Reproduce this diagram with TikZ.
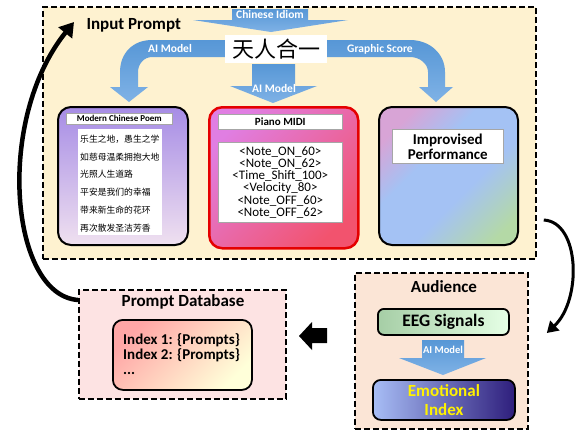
\documentclass[tikz,border=0pt]{standalone}
\usepackage{fontspec}
\setmainfont{Carlito}
\newfontfamily\cjk{Noto Sans CJK SC}
\usetikzlibrary{arrows.meta,calc}

\definecolor{fondoentrada}{HTML}{FEF2D0}
\definecolor{fondobase}{HTML}{FDE3E3}
\definecolor{fondopublico}{HTML}{FBE5D6}
\definecolor{azulflecha}{HTML}{5797D6}
\definecolor{azulclaro}{HTML}{7FB2E6}
\definecolor{midiarriba}{HTML}{E07EE2}
\definecolor{midiabajo}{HTML}{F2536E}
\definecolor{improrosa}{HTML}{D8A4D6}
\definecolor{improazul}{HTML}{A4C2F4}
\definecolor{improverde}{HTML}{B4D9A6}
\definecolor{emoclaro}{HTML}{A8BEF6}
\definecolor{emooscuro}{HTML}{2E1E7C}

\pgfdeclareverticalshading{improsombra}{100bp}{color(0bp)=(improverde); color(22bp)=(improverde);
	color(42bp)=(improazul); color(60bp)=(improazul); color(76bp)=(improrosa); color(100bp)=(improrosa)}

\tikzset{
	caja/.style={draw=black, line width=1.8pt, dash pattern=on 6pt off 3pt, anchor=north west, inner sep=0pt},
	tarjeta/.style={draw=black, line width=2pt, rounded corners=13pt, anchor=north west, inner sep=0pt},
	etiqueta/.style={fill=white, draw=gray!70, line width=0.6pt, anchor=north west, inner sep=0pt},
	flecha/.style={draw=none, top color=azulflecha, bottom color=azulclaro},
	rotulo/.style={text=white, font=\bfseries\fontsize{11.5}{11.5}\selectfont},
	titulo/.style={font=\bfseries\fontsize{17}{17}\selectfont},
}

\begin{document}
\begin{tikzpicture}[x=1pt,y=-1pt]
	%Marco
	\useasboundingbox (0,0) rectangle (583,432);

	%Caja de entrada
	\node[caja, fill=fondoentrada, minimum width=493pt, minimum height=252pt] (entrada) at (42,6) {};
	\node[titulo, anchor=west] (tituloentrada) at (83,25) {Input Prompt};

	%Flechas azules
	\shade[flecha] (232,9) -- (308,9) -- (308,20) -- (348,20) -- (271,32) -- (193,20) -- (232,20) -- cycle;
	\node[rotulo] (rotidioma) at (270,15) {Chinese Idiom};
	\shade[flecha] (228,40) -- (152,40) .. controls (133,40) and (120,53) .. (120,72) -- (120,87)
		-- (110,87) -- (129,102) -- (148,87) -- (138,87) -- (138,72)
		.. controls (138,64) and (144,57) .. (152,57) -- (228,57) -- cycle;
	\node[rotulo] (rotpoema) at (170,49) {AI Model};
	\shade[flecha] (324,40) -- (410,40) .. controls (430,40) and (445,54) .. (445,72) -- (445,87)
		-- (453,87) -- (436,102) -- (419,87) -- (428,87) -- (428,72)
		.. controls (428,64) and (420,57) .. (410,57) -- (324,57) -- cycle;
	\node[rotulo] (rotgrafico) at (380,49) {Graphic Score};
	\shade[flecha] (252,64) -- (295,64) -- (295,86) -- (317,86) -- (273,103) -- (230,86) -- (252,86) -- cycle;
	\node[rotulo] (rotmidi) at (274,89) {AI Model};

	%Idiom
	\node[fill=white, minimum width=102pt, minimum height=28pt, inner sep=0pt,
		font=\cjk\fontsize{22}{22}\selectfont] (idioma) at (276,49) {天人合一};

	%Poema
	\node[tarjeta, top color=violet!45!blue!45!white, bottom color=violet!12!white,
		minimum width=130pt, minimum height=138pt] (poema) at (57,106) {};
	\node[etiqueta, minimum width=106pt, minimum height=11pt,
		font=\bfseries\fontsize{9}{9}\selectfont] (titulopoema) at (66,113) {Modern Chinese Poem};
	\node[fill=white, anchor=north west, inner sep=0pt, minimum width=84pt, minimum height=106pt] (textopoema) at (78,129) {};
	\foreach \verso [count=\i] in {乐生之地，愚生之学, 如慈母温柔拥抱大地, 光照人生道路, 平安是我们的幸福, 带来新生命的花环, 再次散发圣洁芳香}
		\node[anchor=west, inner sep=0pt, font=\cjk\fontsize{8.8}{8.8}\selectfont] (verso\i) at (80,{139+17.8*(\i-1)}) {\verso};

	%MIDI
	\node[tarjeta, draw=red!90!black, line width=2.5pt, left color=midiarriba, right color=midiabajo,
		shading angle=45, minimum width=149pt, minimum height=141pt] (midi) at (208,106) {};
	\node[etiqueta, minimum width=124pt, minimum height=15pt,
		font=\bfseries\fontsize{11}{11}\selectfont] (titulomidi) at (218,114) {Piano MIDI};
	\node[etiqueta, minimum width=124pt, minimum height=80pt, align=center,
		font=\fontsize{13}{12.2}\selectfont] (listamidi) at (218,142)
		{<Note\_ON\_60>\\<Note\_ON\_62>\\<Time\_Shift\_100>\\<Velocity\_80>\\<Note\_OFF\_60>\\<Note\_OFF\_62>};

	%Improvisacion
	\node[tarjeta, shading=improsombra, shading angle=45,
		minimum width=139pt, minimum height=138pt] (impro) at (378,106) {};
	\node[etiqueta, minimum width=111pt, minimum height=34pt, align=center,
		font=\bfseries\fontsize{15}{15}\selectfont] (tituloimpro) at (392,129) {Improvised\\Performance};

	%Base de datos
	\node[caja, fill=fondobase, minimum width=207pt, minimum height=109pt] (base) at (78,289) {};
	\node[titulo] (titulobase) at (183,302) {Prompt Database};
	\node[tarjeta, line width=1.8pt, rounded corners=10pt, left color=red!35!white, right color=yellow!15!white,
		shading angle=45, minimum width=139pt, minimum height=70pt] (indices) at (112,319) {};
	\node[anchor=west, inner sep=0pt, align=left, font=\bfseries\fontsize{15}{15}\selectfont] (textoindices) at (123,354)
		{Index 1: \{Prompts\}\\Index 2: \{Prompts\}\\...};

	%Publico
	\node[caja, fill=fondopublico, minimum width=173pt, minimum height=156pt] (publico) at (354,272) {};
	\node[titulo] (titulopublico) at (444,287) {Audience};
	\node[tarjeta, line width=1.8pt, rounded corners=6pt, left color=green!45!black!35!white, right color=green!10!white,
		minimum width=131pt, minimum height=26pt] (eeg) at (377,308) {};
	\node[font=\bfseries\fontsize{17.5}{17.5}\selectfont] (textoeeg) at (eeg.center) {EEG Signals};
	\shade[flecha] (422,340) -- (464,340) -- (464,358) -- (486,358) -- (443,375) -- (399,358) -- (422,358) -- cycle;
	\node[rotulo, font=\bfseries\fontsize{10.5}{10.5}\selectfont] (roteeg) at (443,350) {AI Model};
	\node[tarjeta, line width=1.8pt, rounded corners=8pt, left color=emoclaro, right color=emooscuro,
		minimum width=142pt, minimum height=40pt] (emocion) at (372,379) {};
	\node[align=center, text=yellow, font=\bfseries\fontsize{17}{19}\selectfont] (textoemocion) at (emocion.center) {Emotional\\Index};

	%Flecha negra
	\fill (327,328) -- (312,328) -- (312,322) -- (299,336) -- (312,350) -- (312,343) -- (327,343) -- cycle;

	%Flechas curvas
	\draw[line width=4.5pt, -{Triangle[length=14pt,width=17pt]}] ([yshift=-11pt]base.north west)
		.. controls (10,295) and (-5,120) .. ([xshift=32pt,yshift=-16pt]entrada.north west);
	\draw[line width=3pt, -{Triangle[length=11pt,width=13pt]}] ([xshift=7pt,yshift=-214pt]entrada.north east)
		.. controls (580,222) and (582,300) .. ([xshift=18pt,yshift=-61pt]publico.north east);
\end{tikzpicture}
\end{document}
